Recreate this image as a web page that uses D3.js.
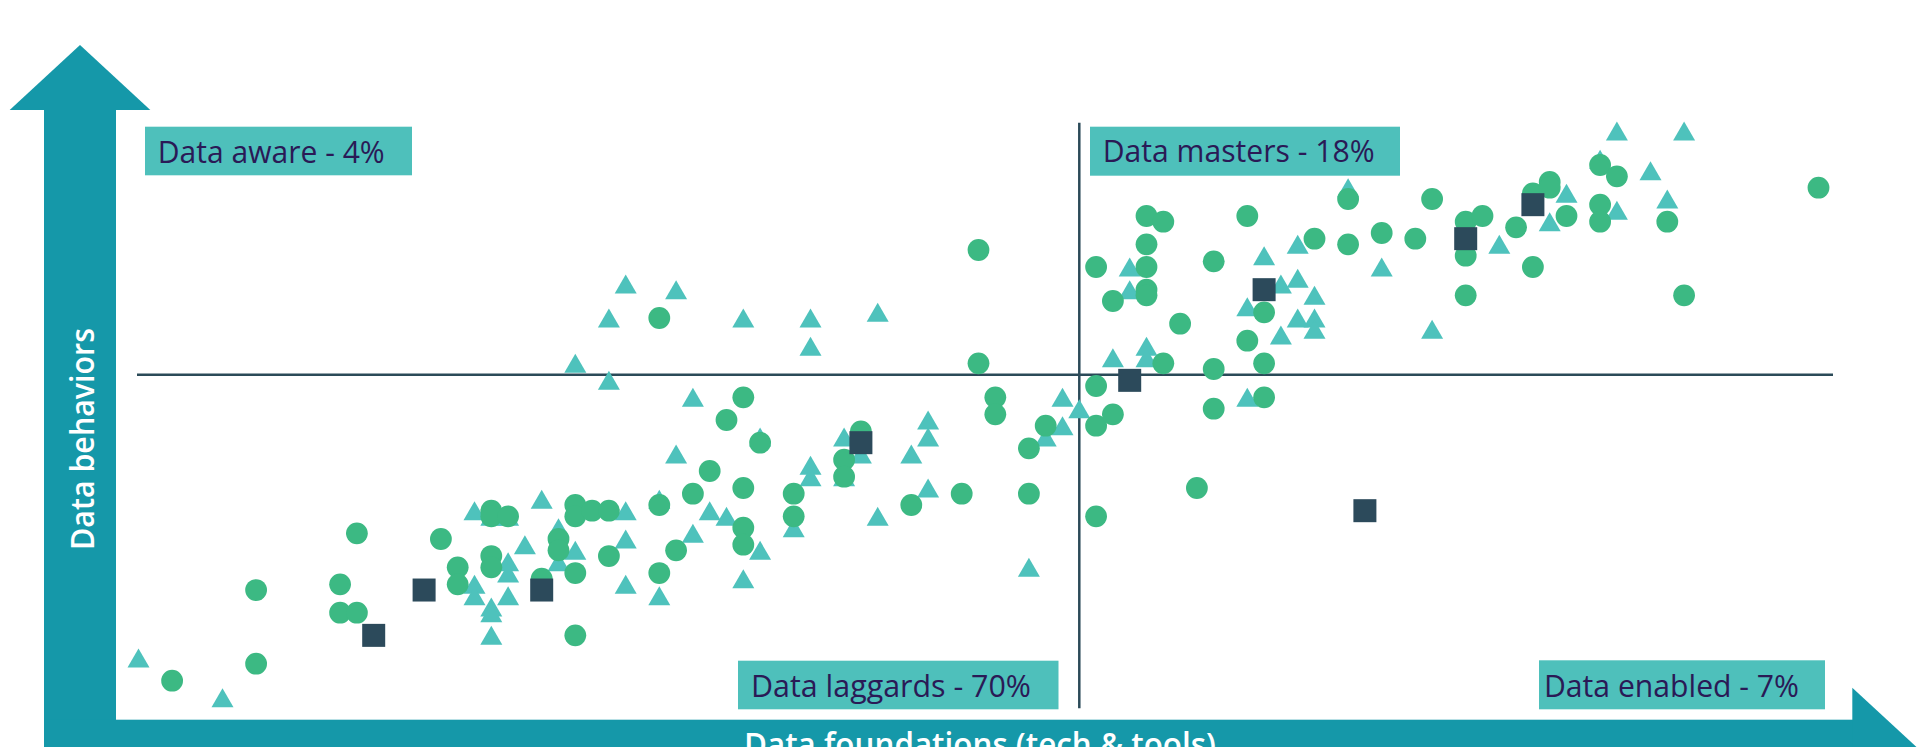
<!DOCTYPE html>
<html>
<head>
<meta charset="utf-8">
<script src="https://cdn.jsdelivr.net/npm/d3@7"></script>
<style>
  body { margin: 0; background: #fff; }
  svg { display: block; }
</style>
</head>
<body>
<svg id="chart"></svg>
<script>
// scores on both axes, 0..100
var circlePts = [
  [2,3],[7,19],[7,6],[12,20],[12,15],[13,15],[13,29],[18,28],[19,23],[19,20],
  [21,33],[21,32],[22,32],[21,25],[21,23],[24,21],[25,28],[25,26],[26,34],[26,32],
  [27,33],[28,33],[26,22],[26,11],[28,25],[31,34],[31,22],[32,26],[33,36],[34,40],
  [36,37],[36,30],[36,27],[36,53],[37,45],[39,36],[39,32],[42,42],[42,39],[43,47],
  [46,34],[49,36],[35,49],[31,67],[50,79],[50,59],[51,53],[51,50],[53,44],[53,36],
  [54,48],[57,55],[57,48],[58,50],[57,32],[58,70],[57,76],[60,85],[61,84],[60,80],
  [60,76],[60,72],[60,71],[61,59],[62,66],[63,37],[64,77],[64,58],[64,51],[66,85],
  [66,63],[67,68],[67,59],[67,53],[70,81],[72,88],[72,80],[74,82],[76,81],[77,88],
  [79,84],[79,78],[79,71],[80,85],[82,83],[83,89],[84,91],[84,90],[85,85],[83,76],
  [87,94],[88,92],[87,87],[87,84],[91,84],[92,71],[100,90]
];
var trianglePts = [
  [0,7],[5,0],[20,33],[21,32],[22,32],[23,27],[24,35],[25,30],[25,24],[26,26],
  [22,24],[22,22],[20,20],[20,18],[22,18],[21,16],[21,15],[21,11],[29,33],[29,28],
  [29,20],[31,35],[31,18],[33,29],[34,33],[35,32],[37,26],[36,21],[37,46],[39,30],
  [42,46],[42,39],[43,43],[40,41],[40,39],[44,32],[46,43],[47,49],[47,46],[47,37],
  [53,23],[54,46],[55,48],[55,53],[56,51],[29,73],[32,72],[28,67],[36,67],[40,67],
  [40,62],[44,68],[26,59],[28,56],[33,53],[32,43],[58,60],[60,62],[60,60],[69,67],
  [70,67],[70,65],[68,64],[77,65],[66,53],[59,76],[59,72],[67,78],[69,80],[68,73],
  [69,74],[70,71],[66,69],[72,90],[74,76],[88,100],[92,100],[87,95],[90,93],[85,89],
  [88,86],[84,84],[81,80],[91,88]
];
var squarePts = [
  [14,11],[17,19],[24,19],[43,45],[59,56],[67,72],[73,33],[79,81],[83,87]
];
// quadrant split
var xMid = 56;
var yMid = 57;
var quadrantLabels = ["Data aware - 4%", "Data masters - 18%", "Data laggards - 70%", "Data enabled - 7%"];
var xTitle = "Data foundations (tech & tools)";
var yTitle = "Data behaviors";

var width = 1921, height = 747;
var svg = d3.select("#chart").attr("width", width).attr("height", height);

var x = d3.scaleLinear().domain([0, 100]).range([138.5, 1818.5]);
var y = d3.scaleLinear().domain([0, 100]).range([697.7, 131]);

var arrowColor = "#1598a9";

// y arrow
svg.append("rect").attr("x", 44).attr("y", 109).attr("width", 72).attr("height", 660).attr("fill", arrowColor);
svg.append("path").attr("d", "M9.7,110 L150.3,110 L80,45 Z").attr("fill", arrowColor);
// x arrow
svg.append("rect").attr("x", 44).attr("y", 719.7).attr("width", 1810).attr("height", 72).attr("fill", arrowColor);
svg.append("path").attr("d", "M1852.3,687.7 L1852.3,824 L1926,755.8 Z").attr("fill", arrowColor);

// axis titles
svg.append("text")
    .attr("transform", "translate(94,439) rotate(-90)")
    .attr("text-anchor", "middle")
    .attr("textLength", 222)
    .attr("lengthAdjust", "spacingAndGlyphs")
    .style("font-family", "'Open Sans', sans-serif")
    .style("font-weight", 600)
    .style("font-size", "32px")
    .style("fill", "white")
    .text(yTitle);

svg.append("text")
    .attr("x", 744).attr("y", 756)
    .attr("textLength", 472)
    .attr("lengthAdjust", "spacingAndGlyphs")
    .style("font-family", "'Open Sans', sans-serif")
    .style("font-weight", 600)
    .style("font-size", "32px")
    .style("fill", "white")
    .text(xTitle);

// quadrant dividers
var lineColor = "#2b4a58";
svg.append("line")
    .attr("x1", x(xMid)).attr("x2", x(xMid))
    .attr("y1", 122.7).attr("y2", 708.3)
    .style("stroke", lineColor).style("stroke-width", 2.5);
svg.append("line")
    .attr("x1", 137).attr("x2", 1833)
    .attr("y1", y(yMid)).attr("y2", y(yMid))
    .style("stroke", lineColor).style("stroke-width", 2.5);

// quadrant labels
var boxes = [
    { x: 145, y: 126.7, w: 267, h: 48.6, tx: 157.7, ty: 162.7, tw: 227 },
    { x: 1090, y: 126.7, w: 310, h: 49, tx: 1102.7, ty: 162.3, tw: 272 },
    { x: 738, y: 660.7, w: 320.5, h: 48.6, tx: 751, ty: 696.5, tw: 280 },
    { x: 1539, y: 660.3, w: 286, h: 49, tx: 1544, ty: 696.5, tw: 255 }
];
var lab = svg.append("g").selectAll("g")
    .data(quadrantLabels)
    .enter().append("g");
lab.append("rect")
    .attr("x", function(d, i) { return boxes[i].x; })
    .attr("y", function(d, i) { return boxes[i].y; })
    .attr("width", function(d, i) { return boxes[i].w; })
    .attr("height", function(d, i) { return boxes[i].h; })
    .style("fill", "#4ec0bb");
lab.append("text")
    .attr("x", function(d, i) { return boxes[i].tx; })
    .attr("y", function(d, i) { return boxes[i].ty; })
    .attr("textLength", function(d, i) { return boxes[i].tw; })
    .attr("lengthAdjust", "spacingAndGlyphs")
    .style("font-family", "'Open Sans', sans-serif")
    .style("font-size", "31px")
    .style("fill", "#2a1a56")
    .text(function(d) { return d; });

// triangles first, circles over them, squares on top
svg.append("g").selectAll("path")
    .data(trianglePts)
    .enter().append("path")
    .attr("transform", function(d) { return "translate(" + x(d[0]) + "," + y(d[1]) + ")"; })
    .attr("d", "M0,-9.5 L11,9.5 L-11,9.5 Z")
    .style("fill", "#4ec2bc");

svg.append("g").selectAll("circle")
    .data(circlePts)
    .enter().append("circle")
    .attr("cx", function(d) { return x(d[0]); })
    .attr("cy", function(d) { return y(d[1]); })
    .attr("r", 10.9)
    .style("fill", "#3cb983");

svg.append("g").selectAll("rect")
    .data(squarePts)
    .enter().append("rect")
    .attr("x", function(d) { return x(d[0]) - 11.5; })
    .attr("y", function(d) { return y(d[1]) - 11.5; })
    .attr("width", 23)
    .attr("height", 23)
    .style("fill", "#2c4a5b");
</script>
</body>
</html>
